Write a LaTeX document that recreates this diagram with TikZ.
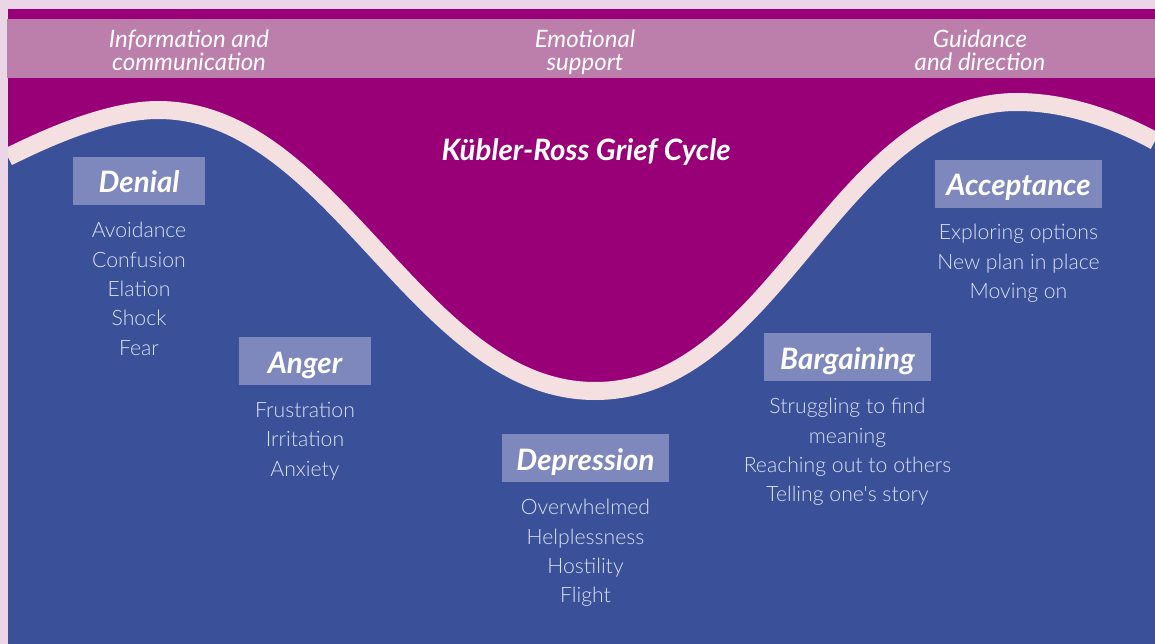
\documentclass[tikz,border=0pt]{standalone}
\usepackage{fontspec}
\setmainfont{Lato}
\newfontfamily\latolight{Lato Light}
\usetikzlibrary{positioning}

\definecolor{blushpink}{HTML}{EAD6E6}
\definecolor{grape}{HTML}{990077}
\definecolor{mauveband}{HTML}{BC7EAA}
\definecolor{wavepink}{HTML}{F5E0E1}
\definecolor{griefblue}{HTML}{3A519A}
\definecolor{stagelav}{HTML}{7F88BC}
\definecolor{notewhite}{HTML}{DCE0F2}

% the wave that splits the cycle in two
\def\griefwave{(8,157) .. controls (50,136) and (110,110) .. (158,110)
  .. controls (335,110) and (418,391) .. (595,391)
  .. controls (776,391) and (836,102) .. (1017,102)
  .. controls (1070,102) and (1120,122) .. (1155,141)}

\begin{document}
\begin{tikzpicture}[
  x=1pt, y=-1pt,
  stagebox/.style={
    fill=stagelav, text=white, inner sep=0pt,
    minimum width=132pt, minimum height=48pt,
    text height=26pt, text depth=2pt,
    font=\fontsize{29.5}{31}\selectfont\bfseries\itshape,
  },
  widebox/.style={stagebox, minimum width=167pt},
  notes/.style={
    text=notewhite, align=center, inner sep=0pt,
    font=\fontsize{21.2}{29.3}\selectfont\latolight,
  },
  bandtext/.style={text=white, align=center,
    font=\fontsize{24}{23}\selectfont\itshape},
]

\useasboundingbox (0,0) rectangle (1155,644);

% === BACKGROUND ===
\fill[blushpink] (0,0) rectangle (1155,644);
\fill[grape] (8,9) rectangle (1155,644);
\fill[mauveband] (7,19) rectangle (1155,78);

\begin{scope}
  \clip (8,80) rectangle (1155,644);
  \fill[griefblue] \griefwave -- (1155,644) -- (8,644) -- cycle;
  \draw[wavepink, line width=18pt] \griefwave;
\end{scope}

% === HEADER BAND ===
\node[bandtext, anchor=base] (infoband)    at (189,70.5) {Information and\\communication};
\node[bandtext, anchor=base] (supportband) at (585,70.5) {Emotional\\support};
\node[bandtext, anchor=base] (guideband)   at (980,70.5) {Guidance\\and direction};

\node[text=white, font=\fontsize{29.5}{31}\selectfont\bfseries\itshape]
  (title) at (586,152) {Kübler-Ross Grief Cycle};

% === STAGES ===
\node[stagebox] (denial) at (139,181) {Denial};
\node[notes, below=17pt of denial] (denialnotes)
  {Avoidance\\Confusion\\Elation\\Shock\\Fear};

\node[stagebox] (anger) at (305,361) {Anger};
\node[notes, below=17pt of anger] (angernotes)
  {Frustration\\Irritation\\Anxiety};

\node[widebox] (depression) at (585.5,458) {Depression};
\node[notes, below=17pt of depression] (depressionnotes)
  {Overwhelmed\\Helplessness\\Hostility\\Flight};

\node[widebox] (bargaining) at (847.5,357) {Bargaining};
\node[notes, below=17pt of bargaining] (bargainingnotes)
  {Struggling to find\\meaning\\Reaching out to others\\Telling one's story};

\node[widebox] (acceptance) at (1018.5,184) {Acceptance};
\node[notes, below=16pt of acceptance] (acceptancenotes)
  {Exploring options\\New plan in place\\Moving on};

\end{tikzpicture}
\end{document}
